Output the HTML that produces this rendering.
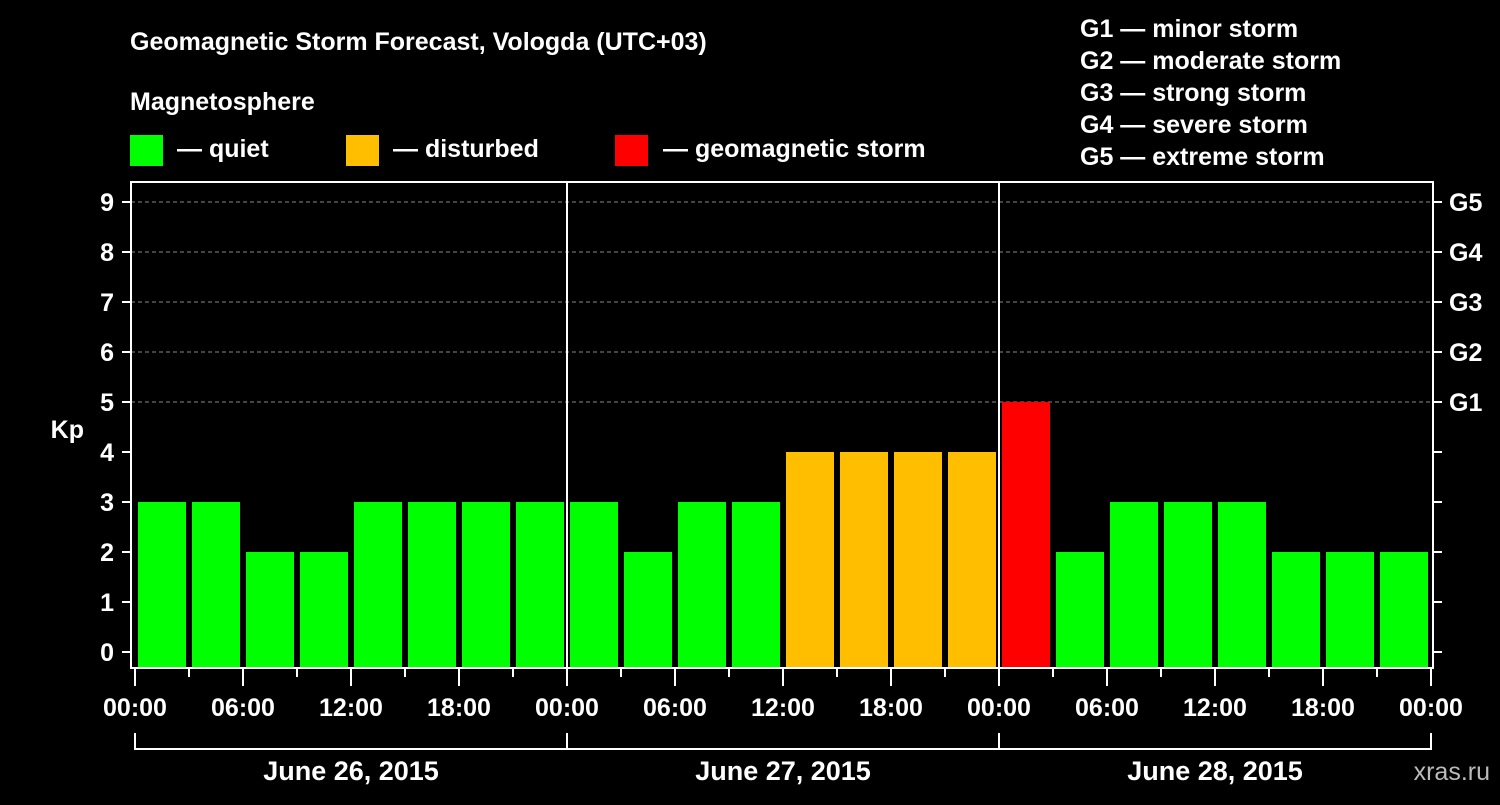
<!DOCTYPE html>
<html><head><meta charset="utf-8"><style>
body{margin:0;background:#000;width:1500px;height:800px;overflow:hidden}
svg text{font-family:"Liberation Sans",sans-serif;font-weight:bold;fill:#fff}
</style></head><body>
<svg id="c" width="1500" height="800">
<text x="130" y="50" font-size="25">Geomagnetic Storm Forecast, Vologda (UTC+03)</text>
<text x="130" y="110" font-size="25">Magnetosphere</text>
<rect x="130" y="135" width="33" height="31" fill="#00ff00"/>
<text x="177" y="157" font-size="25">— quiet</text>
<rect x="346" y="135" width="33" height="31" fill="#ffbf00"/>
<text x="393" y="157" font-size="25">— disturbed</text>
<rect x="615" y="135" width="33" height="31" fill="#ff0000"/>
<text x="663" y="157" font-size="25">— geomagnetic storm</text>
<g font-size="25">
<text x="1080" y="37">G1 — minor storm</text>
<text x="1080" y="69">G2 — moderate storm</text>
<text x="1080" y="101">G3 — strong storm</text>
<text x="1080" y="133">G4 — severe storm</text>
<text x="1080" y="165">G5 — extreme storm</text>
</g>
<text x="84" y="438" font-size="25" text-anchor="end">Kp</text>
<text x="1490" y="780" font-size="25" text-anchor="end" fill="#ccc" style="fill:#bbb;font-weight:normal">xras.ru</text>
<g id="grid"></g><g id="bars"></g><g id="axes"></g>
</svg>
<script>
const kpValues=[3,3,2,2,3,3,3,3, 3,2,3,3,4,4,4,4, 5,2,3,3,3,2,2,2];
const yTicks=[0,1,2,3,4,5,6,7,8,9];
const gLabels=[[5,'G1'],[6,'G2'],[7,'G3'],[8,'G4'],[9,'G5']];
const xTickLabels=['00:00','06:00','12:00','18:00','00:00','06:00','12:00','18:00','00:00','06:00','12:00','18:00','00:00'];
const dayLabels=['June 26, 2015','June 27, 2015','June 28, 2015'];
const NS='http://www.w3.org/2000/svg';
const X0=135,STEP=54,L=131,R=1433,T=182,B=668;
const y=v=>652-50*v, x=i=>X0+STEP*i;
function mk(t,a,p){const e=document.createElementNS(NS,t);for(const k in a)e.setAttribute(k,a[k]);document.getElementById(p).appendChild(e);return e;}
yTicks.forEach(v=>{
 if(v>=5){const g=mk('line',{x1:L,x2:R,y1:y(v),y2:y(v),stroke:'#888','stroke-dasharray':'4,3'},'grid');
 
 }
 const t=mk('line',{x1:122,x2:L,y1:y(v),y2:y(v),stroke:'#fff','stroke-width':2},'axes');
 
 
 const r=mk('line',{x1:R,x2:1442,y1:y(v),y2:y(v),stroke:'#fff','stroke-width':2},'axes');
 
 
 const l=mk('text',{x:114,y:y(v)+9,'font-size':25,'text-anchor':'end'},'axes');l.textContent=v;
 
 
});
gLabels.forEach(([v,s])=>{const l=mk('text',{x:1449,y:y(v)+9,'font-size':25},'axes');l.textContent=s;
 
 });
kpValues.forEach((v,i)=>{
 const c=v>=5?'#ff0000':v>=4?'#ffbf00':'#00ff00';
 const b=mk('rect',{x:x(i)+3,y:y(v),width:48,height:B-y(v),fill:c},'bars');
 
 
});
const f=mk('rect',{x:L,y:T,width:R-L,height:B-T,fill:'none',stroke:'#fff','stroke-width':2},'axes');


[1,2].forEach(d=>{const s=mk('line',{x1:x(8*d),x2:x(8*d),y1:T,y2:B,stroke:'#fff','stroke-width':2},'axes');
 
 });
for(let i=0;i<=24;i++){
 const t=mk('line',{x1:x(i),x2:x(i),y1:B,y2:i%2?677:686,stroke:'#fff','stroke-width':2},'axes');
 
 
}
xTickLabels.forEach((s,i)=>{const l=mk('text',{x:x(2*i),y:716,'font-size':25,'text-anchor':'middle'},'axes');l.textContent=s;
 
 });
const br=mk('polyline',{points:`${x(0)},733 ${x(0)},749 ${x(24)},749 ${x(24)},733`,fill:'none',stroke:'#fff','stroke-width':2},'axes');


[1,2].forEach(d=>{const s=mk('line',{x1:x(8*d),x2:x(8*d),y1:733,y2:749,stroke:'#fff','stroke-width':2},'axes');
 
 });
dayLabels.forEach((s,i)=>{const l=mk('text',{x:x(8*i+4),y:780,'font-size':27,'text-anchor':'middle'},'axes');l.textContent=s;
 
 });
</script>
</body></html>
